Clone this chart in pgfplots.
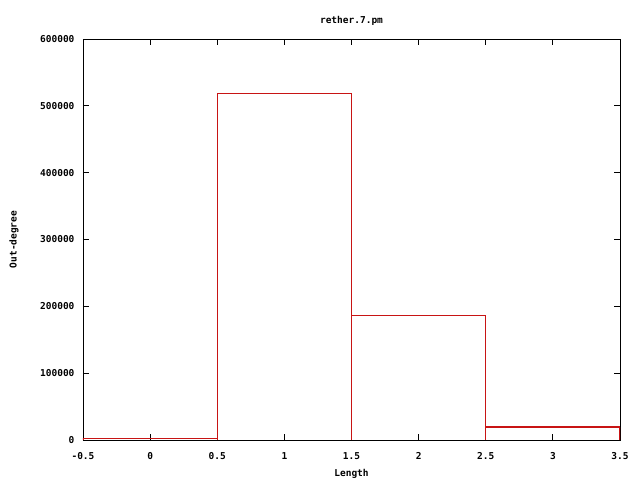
\documentclass[border=0pt]{standalone}
\usepackage{pgfplots}
\pgfplotsset{compat=1.18}
\usepackage{fontspec}
\setmainfont{DejaVu Sans Mono}
\definecolor{gp}{RGB}{200,20,20}
\begin{document}
\begin{tikzpicture}
\useasboundingbox (0pt,0pt) rectangle (640pt,480pt);
\begin{axis}[at={(83pt,40pt)}, anchor=south west, scale only axis,
  width=537pt, height=401pt,
  xmin=-0.5, xmax=3.5, ymin=0, ymax=600000,
  xtick={-0.5,0,0.5,1,1.5,2,2.5,3,3.5},
  ytick={0,100000,200000,300000,400000,500000,600000},
  xticklabels={-0.5,0,0.5,1,1.5,2,2.5,3,3.5},
  yticklabels={0,100000,200000,300000,400000,500000,600000},
  scaled y ticks=false,
  tick align=inside, major tick length=6pt,
  tick style={black, line width=0.8pt},
  axis line style={black, line width=0.8pt},
  ticklabel style={font=\fontsize{9.5}{11}\selectfont\bfseries},
  xticklabel style={anchor=base, yshift=-19pt},
  yticklabel style={anchor=east, xshift=-5pt},
  title={rether.7.pm},
  title style={font=\fontsize{9.5}{11}\selectfont\bfseries, at={(0.5,1)}, anchor=base, yshift=10pt},
  xlabel={Length},
  xlabel style={font=\fontsize{9.5}{11}\selectfont\bfseries, at={(0.5,0)}, anchor=base, yshift=-36pt},
  ylabel={Out-degree},
  ylabel style={font=\fontsize{9.5}{11}\selectfont\bfseries, at={(axis description cs:-0.1285,0.5)}, anchor=center},
]
\addplot[color=gp, line width=1.2pt, const plot mark left, mark=none] coordinates {(-0.5,2500) (0.5,518800) (1.5,186600) (2.5,19400) (3.5,19400)};
\addplot[color=gp, line width=1.2pt, ycomb, mark=none] coordinates {(-0.5,2500) (0.5,518800) (1.5,518800) (2.5,186600) (3.5,19400)};
\end{axis}
\end{tikzpicture}
\end{document}
